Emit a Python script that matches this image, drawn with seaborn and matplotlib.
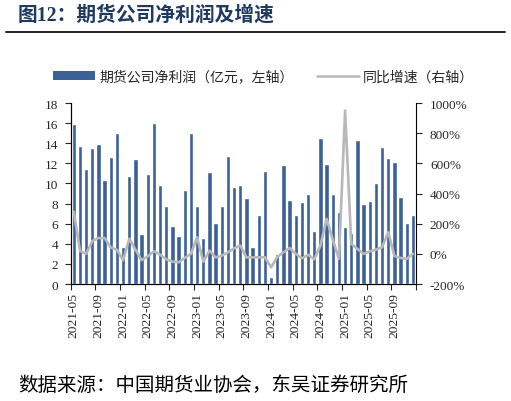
import seaborn as sns
import pandas as pd
import numpy as np
import matplotlib.pyplot as plt
from matplotlib.patches import Patch
from matplotlib.lines import Line2D
from matplotlib.ticker import FixedLocator, FuncFormatter

# 期货公司净利润（亿元）与同比增速（%）, 2021-05 ~ 2025-12
months = pd.date_range('2021-05', periods=56, freq='MS').strftime('%Y-%m').tolist()
profit = [15.9, 13.7, 11.4, 13.5, 13.9, 10.3, 12.6, 15.0, 3.7, 10.7,
          12.4, 5.0, 10.9, 16.0, 9.8, 7.8, 5.8, 4.8, 9.4, 15.0,
          7.8, 4.6, 11.1, 6.1, 7.8, 12.7, 9.6, 9.8, 8.6, 3.7,
          6.9, 11.2, 0.7, 3.0, 11.8, 8.4, 6.9, 8.2, 9.0, 5.3,
          14.5, 11.9, 9.0, 7.2, 5.7, 5.1, 14.3, 8.0, 8.3, 10.0,
          13.6, 12.5, 12.1, 8.7, 6.1, 6.9]
growth = [280, 20, 0, 85, 105, 105, 42, 27, -42, 100,
          28, -42, -16, 18, -6, -36, -52, -56, -27, 0,
          110, -52, 21, -23, -12, 10, 37, 55, -23, -23,
          -23, -23, -89, -20, 10, 39, 0, -29, -6, -36,
          55, 232, 95, -34, 950, 66, 33, 0, 17, 28,
          44, 144, -15, -27, -34, 0]

df = pd.DataFrame({'month': months, 'profit': profit, 'growth': growth})
df['pos'] = np.arange(len(df))

sns.set_style('ticks')
plt.rcParams['font.family'] = ['Liberation Serif', 'Noto Sans CJK SC']
cjk = ['Noto Sans CJK SC', 'DejaVu Sans']

bar_color = '#3B6196'
line_color = '#B8B8B8'

fig = plt.figure(figsize=(5.11, 4.02), dpi=100)
ax = fig.add_axes([0.1384, 0.291, 0.6757, 0.4502])

sns.barplot(data=df, x='pos', y='profit', ax=ax, color=bar_color,
            saturation=1, width=0.7)
ax2 = ax.twinx()
sns.lineplot(data=df, x='pos', y='growth', ax=ax2, color=line_color, linewidth=1.9)

ax.set_xlim(-0.5, len(df) - 0.5)
ax.set_ylim(0, 18)
ax.set_yticks(np.arange(0, 19, 2))
ax2.set_ylim(-200, 1000)
ax2.set_yticks(np.arange(-200, 1001, 200))
ax2.yaxis.set_major_formatter(FuncFormatter(lambda v, p: f'{v:.0f}%'))

ax.set_xticks(np.arange(0, len(df), 4))
ax.set_xticklabels(months[::4], rotation=90)
ax.xaxis.set_minor_locator(FixedLocator(np.arange(-0.5, len(df), 4)))
ax.tick_params(axis='x', which='major', length=0, pad=6, labelsize=9.7)
ax.tick_params(axis='x', which='minor', length=4, width=0.8, direction='out')
ax.tick_params(axis='y', length=4, width=0.8, pad=5, labelsize=9.5)
ax2.tick_params(axis='y', length=4, width=0.8, pad=6, labelsize=9.5)

for a in (ax, ax2):
    a.set_xlabel('')
    a.set_ylabel('')
    a.spines['top'].set_visible(False)
    for s in ('left', 'right', 'bottom'):
        a.spines[s].set_linewidth(0.8)
        a.spines[s].set_color('black')
ax.spines['right'].set_visible(False)
ax2.grid(False)

handles = [Patch(facecolor=bar_color, edgecolor='none'),
           Line2D([0], [0], color=line_color, linewidth=1.8)]
labels = ['期货公司净利润（亿元，左轴）', '同比增速（右轴）']
fig.legend(handles, labels, loc='center', bbox_to_anchor=(0.516, 0.807), ncol=2,
           frameon=False, prop={'family': cjk, 'size': 10},
           handlelength=3.0, handleheight=0.55, columnspacing=1.7, handletextpad=0.3)

fig.text(0.035, 0.962, '图12：期货公司净利润及增速', ha='left', va='center',
         fontsize=14.2, fontweight='bold', color='#1F3A60',
         family=['Liberation Serif', 'Noto Sans CJK SC'])
fig.add_artist(Line2D([0.012, 0.988], [0.917, 0.917], color='#222222', linewidth=1.4))
fig.text(0.035, 0.042, '数据来源：中国期货业协会，东吴证券研究所', ha='left', va='center',
         fontsize=14, color='black', family=cjk)

fig.savefig('out.png', dpi=100)
